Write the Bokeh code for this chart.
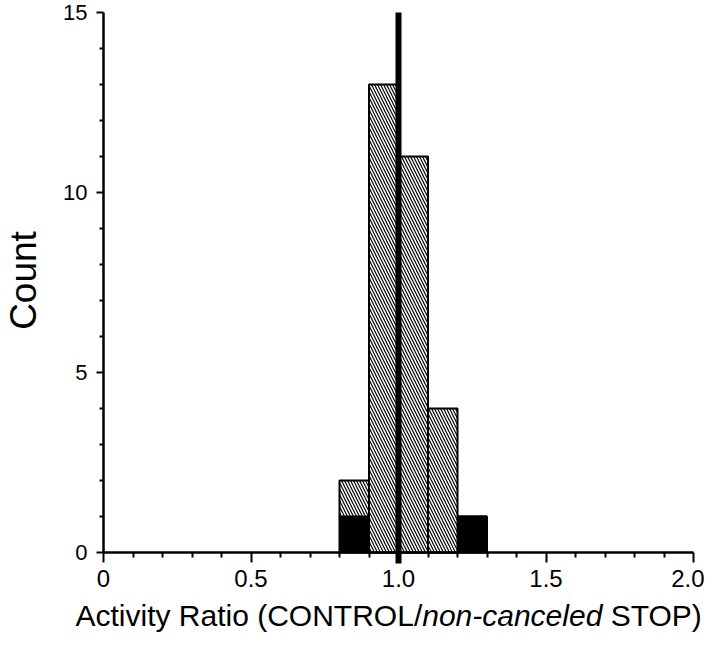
import math
from bokeh.plotting import figure
from bokeh.models import Range1d, Label, Arrow, FixedTicker
from bokeh.embed import file_html
from bokeh.resources import INLINE

# ---- data ----
bin_left = [0.8, 0.9, 1.0, 1.1, 1.2]
bin_right = [0.9, 1.0, 1.1, 1.2, 1.3]
black_counts = [1, 0, 0, 0, 1]
hatched_counts = [1, 13, 11, 4, 0]
ref_ratio = 1.0
x_ticks = [0, 0.5, 1.0, 1.5, 2.0]
x_minor_ticks = [0.1, 0.2, 0.3, 0.4, 0.6, 0.7, 0.8, 0.9,
                 1.1, 1.2, 1.3, 1.4, 1.6, 1.7, 1.8, 1.9]
x_tick_labels = {0: "0", 0.5: "0.5", 1.0: "1.0", 1.5: "1.5", 2.0: "2.0"}
y_ticks = [0, 5, 10, 15]
y_minor_ticks = [1, 2, 3, 4, 6, 7, 8, 9, 11, 12, 13, 14]
x_label_parts = ["Activity Ratio (CONTROL/", "non-canceled", "STOP)"]
x_label_styles = ["normal", "italic", "normal"]
y_label = "Count"

FONT = "Liberation Sans"

# ---- layout (pixels inside the 704x632 canvas) ----
W, H = 704, 632
AX_L, AX_R, AX_T, AX_B = 103, 693, 12, 552   # where x=0..2 and y=15..0 sit
XMIN, XMAX, YMIN, YMAX = 0.0, 2.0, 0.0, 15.0
sx = (XMAX - XMIN) / (AX_R - AX_L)
sy = (YMAX - YMIN) / (AX_B - AX_T)
BASELINE_SHIFT = 0.38  # em; label anchor correction for alphabetic baseline

def dx(px):  # canvas px -> data x
    return XMIN + (px - AX_L) * sx

def dy(py):  # canvas px (from top) -> data y
    return YMIN + (AX_B - py) * sy

p = figure(width=W, height=H, output_backend="svg", toolbar_location=None,
           x_range=Range1d(dx(0), dx(W)), y_range=Range1d(dy(H), dy(0)),
           min_border_left=0, min_border_right=0, min_border_top=0,
           min_border_bottom=0)
p.outline_line_color = None
p.xgrid.visible = False
p.ygrid.visible = False
p.background_fill_color = "white"

hatched_bottom = black_counts
hatched_top = [b + h for b, h in zip(black_counts, hatched_counts)]

p.quad(left=bin_left, right=bin_right, bottom=[0] * len(bin_left), top=black_counts,
       fill_color="black", line_color="black", line_width=2)
p.quad(left=bin_left, right=bin_right, bottom=hatched_bottom, top=hatched_top,
       fill_color="white", line_color="black", line_width=2,
       hatch_pattern="\\", hatch_color="black", hatch_scale=6, hatch_weight=1.2)

# axes at fixed locations
for ax in (p.xaxis[0], p.yaxis[0]):
    ax.axis_line_width = 2.5
    ax.axis_line_color = "black"
    ax.major_tick_line_width = 2
    ax.minor_tick_line_width = 2
    ax.major_tick_line_color = "black"
    ax.minor_tick_line_color = "black"
    ax.major_tick_in = 0
    ax.minor_tick_in = 0
    ax.major_label_text_font = FONT
    ax.major_label_text_color = "black"

xa = p.xaxis[0]
xa.fixed_location = YMIN
xa.bounds = (XMIN, XMAX)
xa.ticker = FixedTicker(ticks=x_ticks, minor_ticks=x_minor_ticks)
xa.major_label_overrides = x_tick_labels
xa.major_tick_out = 10
xa.minor_tick_out = 5
xa.major_label_text_font_size = "24px"
xa.major_label_standoff = 7

ya = p.yaxis[0]
ya.fixed_location = XMIN
ya.bounds = (YMIN, YMAX)
ya.ticker = FixedTicker(ticks=y_ticks, minor_ticks=y_minor_ticks)
ya.major_tick_out = 7
ya.minor_tick_out = 4
ya.major_label_text_font_size = "22px"
ya.major_label_standoff = 9

# reference line at ratio 1.0 (extends a little below the axis)
p.add_layout(Arrow(end=None, start=None, x_start=ref_ratio, y_start=YMAX,
                   x_end=ref_ratio, y_end=dy(AX_B + 11), line_width=6,
                   line_color="black"))

# y axis title (glyph baseline at x=37)
yfs = 37
p.add_layout(Label(x=dx(37 - BASELINE_SHIFT * yfs), y=dy(280), text=y_label,
                   angle=math.pi / 2, text_font=FONT, text_font_size=f"{yfs}px",
                   text_align="center", text_baseline="alphabetic",
                   text_color="black"))

# x axis title (mixed italic), glyph baseline at y=626
em_widths = [11.557, 6.003 + 0.278, 3.056]
fs = 30
x_px = 75
for txt, style, w in zip(x_label_parts, x_label_styles, em_widths):
    p.add_layout(Label(x=dx(x_px), y=dy(626 - BASELINE_SHIFT * fs), text=txt,
                       text_font=FONT, text_font_size=f"{fs}px",
                       text_font_style=style, text_align="left",
                       text_baseline="alphabetic", text_color="black"))
    x_px += w * fs

open("out.html", "w").write(file_html(p, INLINE))
